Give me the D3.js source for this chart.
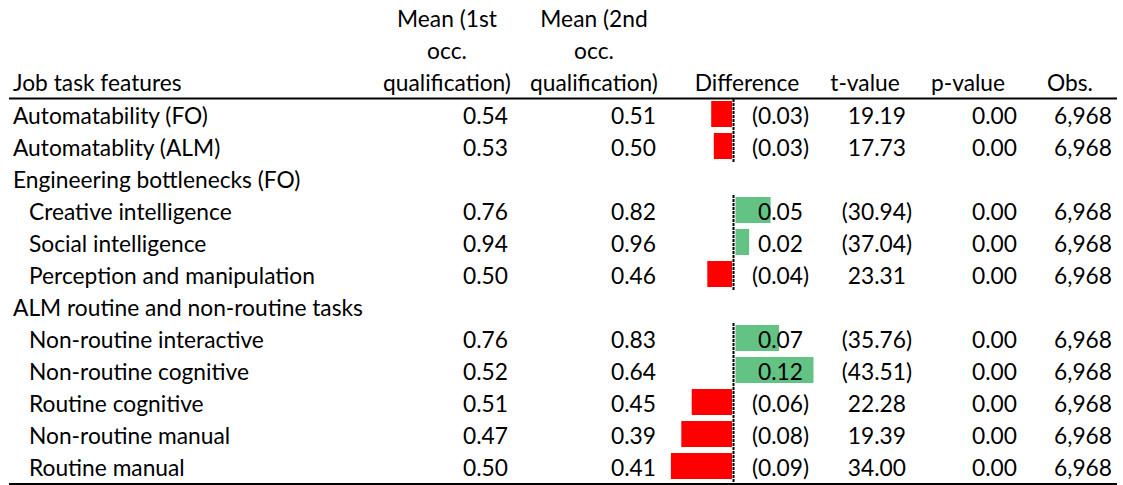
<!DOCTYPE html>
<html>
<head>
<meta charset="utf-8">
<script src="https://cdn.jsdelivr.net/npm/d3@7"></script>
<style>
  html, body { margin: 0; padding: 0; background: #fff; }
  svg text { font-family: Lato, "Open Sans", sans-serif; fill: #000; }
</style>
</head>
<body>
<svg id="table" width="1123" height="485"></svg>
<script>
// rows of the table (null = group heading, no values)
const rowLabels = ["Automatability (FO)", "Automatablity (ALM)", "Engineering bottlenecks (FO)",
  "Creative intelligence", "Social intelligence", "Perception and manipulation",
  "ALM routine and non-routine tasks", "Non-routine interactive", "Non-routine cognitive",
  "Routine cognitive", "Non-routine manual", "Routine manual"];
const indent = [0, 0, 0, 1, 1, 1, 0, 1, 1, 1, 1, 1];
const mean1 = [0.54, 0.53, null, 0.76, 0.94, 0.50, null, 0.76, 0.52, 0.51, 0.47, 0.50];
const mean2 = [0.51, 0.50, null, 0.82, 0.96, 0.46, null, 0.83, 0.64, 0.45, 0.39, 0.41];
const diff = [-0.032, -0.028, null, 0.054, 0.021, -0.038, null, 0.067, 0.12, -0.062, -0.078, -0.094];
const tValue = [19.19, 17.73, null, -30.94, -37.04, 23.31, null, -35.76, -43.51, 22.28, 19.39, 34.00];
const pValue = [0.00, 0.00, null, 0.00, 0.00, 0.00, null, 0.00, 0.00, 0.00, 0.00, 0.00];
const obs = [6968, 6968, null, 6968, 6968, 6968, null, 6968, 6968, 6968, 6968, 6968];

const headMean1 = ["Mean (1st", "occ.", "qualification)"];
const headMean2 = ["Mean (2nd", "occ.", "qualification)"];
const headOther = ["Difference", "t-value", "p-value", "Obs."];

let svg = d3.select("#table");

// pick a font size so text is about as wide as the Calibri in the original
let probe = svg.append("text").attr("font-size", 20).text("Automatability (FO)");
let fontSize = 20 * 195 / probe.node().getComputedTextLength();
probe.remove();
svg.attr("font-size", fontSize);

let y = d3.scaleBand().domain(d3.range(rowLabels.length)).range([99, 483]);
let barLen = d3.scaleLinear().domain([0, 0.12]).range([0, 78]);
let axisX = 733.5;

let f2 = d3.format(".2f");
let fAcc = v => v < 0 ? "(" + f2(-v) + ")" : f2(v);

// header
let headY = [27, 59, 91];
svg.selectAll(".h1").data(headMean1).join("text")
    .attr("x", 447).attr("y", (d, i) => headY[i])
    .attr("text-anchor", "middle").text(d => d);
svg.selectAll(".h2").data(headMean2).join("text")
    .attr("x", 594).attr("y", (d, i) => headY[i])
    .attr("text-anchor", "middle").text(d => d);
svg.append("text").attr("x", 13).attr("y", 91).text("Job task features");
let headCx = [747, 865, 968, 1070];
svg.selectAll(".h3").data(headOther).join("text")
    .attr("x", (d, i) => headCx[i]).attr("y", 91)
    .attr("text-anchor", "middle").text(d => d);

svg.append("line").attr("x1", 9).attr("x2", 1117).attr("y1", 98.5).attr("y2", 98.5)
    .attr("stroke", "#000").attr("stroke-width", 2);
svg.append("line").attr("x1", 9).attr("x2", 1117).attr("y1", 484).attr("y2", 484)
    .attr("stroke", "#000").attr("stroke-width", 2);

let rows = d3.range(rowLabels.length);
let valued = rows.filter(i => diff[i] != null);

// data bars
svg.selectAll(".bar").data(valued).join("rect")
    .attr("x", i => diff[i] < 0 ? axisX - 1.5 - barLen(-diff[i]) : axisX + 2)
    .attr("y", i => y(i) + 2)
    .attr("width", i => barLen(Math.abs(diff[i])))
    .attr("height", y.bandwidth() - 6)
    .attr("fill", i => diff[i] < 0 ? "#ff0000" : "#63c384");

// dashed bar axis, one piece per cell
svg.selectAll(".axis").data(valued).join("line")
    .attr("x1", axisX).attr("x2", axisX)
    .attr("y1", i => y(i)).attr("y2", i => y(i) + y.bandwidth())
    .attr("stroke", "#000").attr("stroke-width", 2)
    .attr("stroke-dasharray", "3,1");

// labels
svg.selectAll(".lab").data(rows).join("text")
    .attr("x", i => indent[i] ? 29 : 13)
    .attr("y", i => y(i) + 25)
    .text(i => rowLabels[i]);

function numCol(values, right, fmt, paren) {
  svg.selectAll(null).data(valued).join("text")
      .attr("x", i => right + (paren && values[i] < 0 ? 6 : 0))
      .attr("y", i => y(i) + 25)
      .attr("text-anchor", "end")
      .text(i => fmt(values[i]));
}

numCol(mean1, 508, f2, false);
numCol(mean2, 656, f2, false);
numCol(diff, 803, fAcc, true);
numCol(tValue, 906, fAcc, true);
numCol(pValue, 1017, f2, false);
numCol(obs, 1112, d3.format(","), false);
</script>
</body>
</html>
